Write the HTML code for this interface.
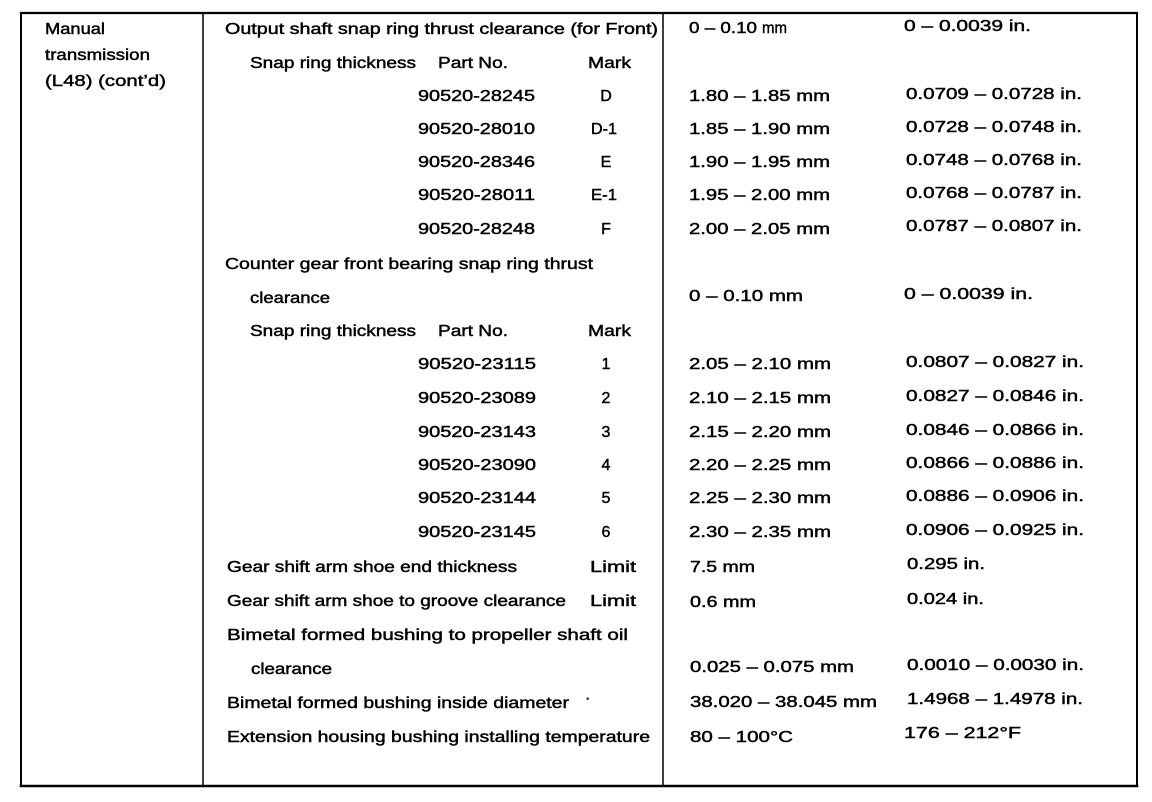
<!DOCTYPE html>
<html>
<head>
<meta charset="utf-8">
<style>
html,body{margin:0;padding:0;background:#fff;}
svg{display:block;}
text{font-family:"Liberation Sans",Arial,sans-serif;font-size:16px;fill:#000;stroke:#000;stroke-width:0.45;}
</style>
</head>
<body>
<svg width="1152" height="802" viewBox="0 0 1152 802" xmlns="http://www.w3.org/2000/svg">
<rect width="1152" height="802" fill="#fff"/>
<g stroke="#000" fill="none" stroke-linecap="square">
<line x1="21" y1="13" x2="1137" y2="13" stroke-width="2.2"/>
<line x1="21" y1="13" x2="21" y2="786" stroke-width="2"/>
<line x1="1137" y1="13" x2="1137" y2="786" stroke-width="2"/>
<line x1="21" y1="786" x2="1137" y2="786" stroke-width="2.6"/>
<line x1="203" y1="13" x2="203" y2="786" stroke-width="1.5"/>
<line x1="663" y1="13" x2="663" y2="786" stroke-width="1.5"/>
</g>

<!-- column 1 -->
<text x="45" y="34" textLength="60" lengthAdjust="spacingAndGlyphs">Manual</text>
<text x="45" y="60" textLength="105" lengthAdjust="spacingAndGlyphs">transmission</text>
<text x="45" y="86" textLength="121" lengthAdjust="spacingAndGlyphs">(L48) (cont’d)</text>

<!-- column 2 -->
<text x="225" y="34" textLength="433" lengthAdjust="spacingAndGlyphs">Output shaft snap ring thrust clearance (for Front)</text>
<text x="250" y="68" textLength="166" lengthAdjust="spacingAndGlyphs">Snap ring thickness</text>
<text x="438" y="68" textLength="70" lengthAdjust="spacingAndGlyphs">Part No.</text>
<text x="588" y="68" textLength="43" lengthAdjust="spacingAndGlyphs">Mark</text>

<text x="418" y="101" textLength="117" lengthAdjust="spacingAndGlyphs">90520-28245</text>
<text x="606" y="101" text-anchor="middle">D</text>
<text x="418" y="134" textLength="117" lengthAdjust="spacingAndGlyphs">90520-28010</text>
<text x="591" y="134" textLength="26" lengthAdjust="spacingAndGlyphs">D-1</text>
<text x="418" y="167" textLength="117" lengthAdjust="spacingAndGlyphs">90520-28346</text>
<text x="606" y="167" text-anchor="middle">E</text>
<text x="418" y="200" textLength="117" lengthAdjust="spacingAndGlyphs">90520-28011</text>
<text x="591" y="200" textLength="26" lengthAdjust="spacingAndGlyphs">E-1</text>
<text x="418" y="234" textLength="117" lengthAdjust="spacingAndGlyphs">90520-28248</text>
<text x="606" y="234" text-anchor="middle">F</text>

<text x="225" y="269" textLength="368" lengthAdjust="spacingAndGlyphs">Counter gear front bearing snap ring thrust</text>
<text x="250" y="303" textLength="80" lengthAdjust="spacingAndGlyphs">clearance</text>
<text x="250" y="336" textLength="166" lengthAdjust="spacingAndGlyphs">Snap ring thickness</text>
<text x="438" y="336" textLength="70" lengthAdjust="spacingAndGlyphs">Part No.</text>
<text x="588" y="336" textLength="43" lengthAdjust="spacingAndGlyphs">Mark</text>

<text x="418" y="369" textLength="118" lengthAdjust="spacingAndGlyphs">90520-23115</text>
<text x="606" y="369" text-anchor="middle">1</text>
<text x="418" y="403" textLength="118" lengthAdjust="spacingAndGlyphs">90520-23089</text>
<text x="606" y="403" text-anchor="middle">2</text>
<text x="418" y="437" textLength="118" lengthAdjust="spacingAndGlyphs">90520-23143</text>
<text x="606" y="437" text-anchor="middle">3</text>
<text x="418" y="470" textLength="118" lengthAdjust="spacingAndGlyphs">90520-23090</text>
<text x="606" y="470" text-anchor="middle">4</text>
<text x="418" y="503" textLength="118" lengthAdjust="spacingAndGlyphs">90520-23144</text>
<text x="606" y="503" text-anchor="middle">5</text>
<text x="418" y="537" textLength="118" lengthAdjust="spacingAndGlyphs">90520-23145</text>
<text x="606" y="537" text-anchor="middle">6</text>

<text x="227" y="572" textLength="290" lengthAdjust="spacingAndGlyphs">Gear shift arm shoe end thickness</text>
<text x="590" y="572" textLength="46" lengthAdjust="spacingAndGlyphs">Limit</text>
<text x="227" y="606" textLength="339" lengthAdjust="spacingAndGlyphs">Gear shift arm shoe to groove clearance</text>
<text x="590" y="606" textLength="46" lengthAdjust="spacingAndGlyphs">Limit</text>
<text x="227" y="640" textLength="401" lengthAdjust="spacingAndGlyphs">Bimetal formed bushing to propeller shaft oil</text>
<text x="251" y="674" textLength="81" lengthAdjust="spacingAndGlyphs">clearance</text>
<text x="227" y="708" textLength="342" lengthAdjust="spacingAndGlyphs">Bimetal formed bushing inside diameter</text>
<text x="585" y="703" font-size="10">·</text>
<text x="227" y="742" textLength="423" lengthAdjust="spacingAndGlyphs">Extension housing bushing installing temperature</text>

<!-- column 3 (metric) -->
<text x="689" y="33" style="font-size:16px" textLength="68" lengthAdjust="spacingAndGlyphs">0 – 0.10</text>
<text x="762" y="33" style="font-size:16px" textLength="25" lengthAdjust="spacingAndGlyphs">mm</text>
<text x="689" y="101" textLength="141" lengthAdjust="spacingAndGlyphs">1.80 – 1.85 mm</text>
<text x="689" y="134" textLength="141" lengthAdjust="spacingAndGlyphs">1.85 – 1.90 mm</text>
<text x="689" y="167" textLength="141" lengthAdjust="spacingAndGlyphs">1.90 – 1.95 mm</text>
<text x="689" y="200" textLength="141" lengthAdjust="spacingAndGlyphs">1.95 – 2.00 mm</text>
<text x="689" y="234" textLength="141" lengthAdjust="spacingAndGlyphs">2.00 – 2.05 mm</text>
<text x="689" y="301" textLength="114" lengthAdjust="spacingAndGlyphs">0 – 0.10 mm</text>
<text x="689" y="369" textLength="142" lengthAdjust="spacingAndGlyphs">2.05 – 2.10 mm</text>
<text x="689" y="403" textLength="142" lengthAdjust="spacingAndGlyphs">2.10 – 2.15 mm</text>
<text x="689" y="437" textLength="142" lengthAdjust="spacingAndGlyphs">2.15 – 2.20 mm</text>
<text x="689" y="470" textLength="142" lengthAdjust="spacingAndGlyphs">2.20 – 2.25 mm</text>
<text x="689" y="503" textLength="142" lengthAdjust="spacingAndGlyphs">2.25 – 2.30 mm</text>
<text x="689" y="537" textLength="142" lengthAdjust="spacingAndGlyphs">2.30 – 2.35 mm</text>
<text x="690" y="572" textLength="65" lengthAdjust="spacingAndGlyphs">7.5 mm</text>
<text x="690" y="607" textLength="66" lengthAdjust="spacingAndGlyphs">0.6 mm</text>
<text x="690" y="672" textLength="164" lengthAdjust="spacingAndGlyphs">0.025 – 0.075 mm</text>
<text x="690" y="707" textLength="187" lengthAdjust="spacingAndGlyphs">38.020 – 38.045 mm</text>
<text x="690" y="742" textLength="103" lengthAdjust="spacingAndGlyphs">80 – 100°C</text>

<!-- column 4 (inch) -->
<text x="904" y="31" textLength="127" lengthAdjust="spacingAndGlyphs">0 – 0.0039 in.</text>
<text x="906" y="99" textLength="176" lengthAdjust="spacingAndGlyphs">0.0709 – 0.0728 in.</text>
<text x="906" y="132" textLength="176" lengthAdjust="spacingAndGlyphs">0.0728 – 0.0748 in.</text>
<text x="906" y="165" textLength="176" lengthAdjust="spacingAndGlyphs">0.0748 – 0.0768 in.</text>
<text x="906" y="198" textLength="176" lengthAdjust="spacingAndGlyphs">0.0768 – 0.0787 in.</text>
<text x="906" y="231" textLength="176" lengthAdjust="spacingAndGlyphs">0.0787 – 0.0807 in.</text>
<text x="904" y="299" textLength="129" lengthAdjust="spacingAndGlyphs">0 – 0.0039 in.</text>
<text x="906" y="367" textLength="178" lengthAdjust="spacingAndGlyphs">0.0807 – 0.0827 in.</text>
<text x="906" y="401" textLength="178" lengthAdjust="spacingAndGlyphs">0.0827 – 0.0846 in.</text>
<text x="906" y="435" textLength="178" lengthAdjust="spacingAndGlyphs">0.0846 – 0.0866 in.</text>
<text x="906" y="468" textLength="178" lengthAdjust="spacingAndGlyphs">0.0866 – 0.0886 in.</text>
<text x="906" y="501" textLength="178" lengthAdjust="spacingAndGlyphs">0.0886 – 0.0906 in.</text>
<text x="906" y="535" textLength="178" lengthAdjust="spacingAndGlyphs">0.0906 – 0.0925 in.</text>
<text x="907" y="569" textLength="78" lengthAdjust="spacingAndGlyphs">0.295 in.</text>
<text x="907" y="604" textLength="77" lengthAdjust="spacingAndGlyphs">0.024 in.</text>
<text x="907" y="670" textLength="177" lengthAdjust="spacingAndGlyphs">0.0010 – 0.0030 in.</text>
<text x="907" y="704" textLength="176" lengthAdjust="spacingAndGlyphs">1.4968 – 1.4978 in.</text>
<text x="904" y="738" textLength="117" lengthAdjust="spacingAndGlyphs">176 – 212°F</text>
</svg>
</body>
</html>
